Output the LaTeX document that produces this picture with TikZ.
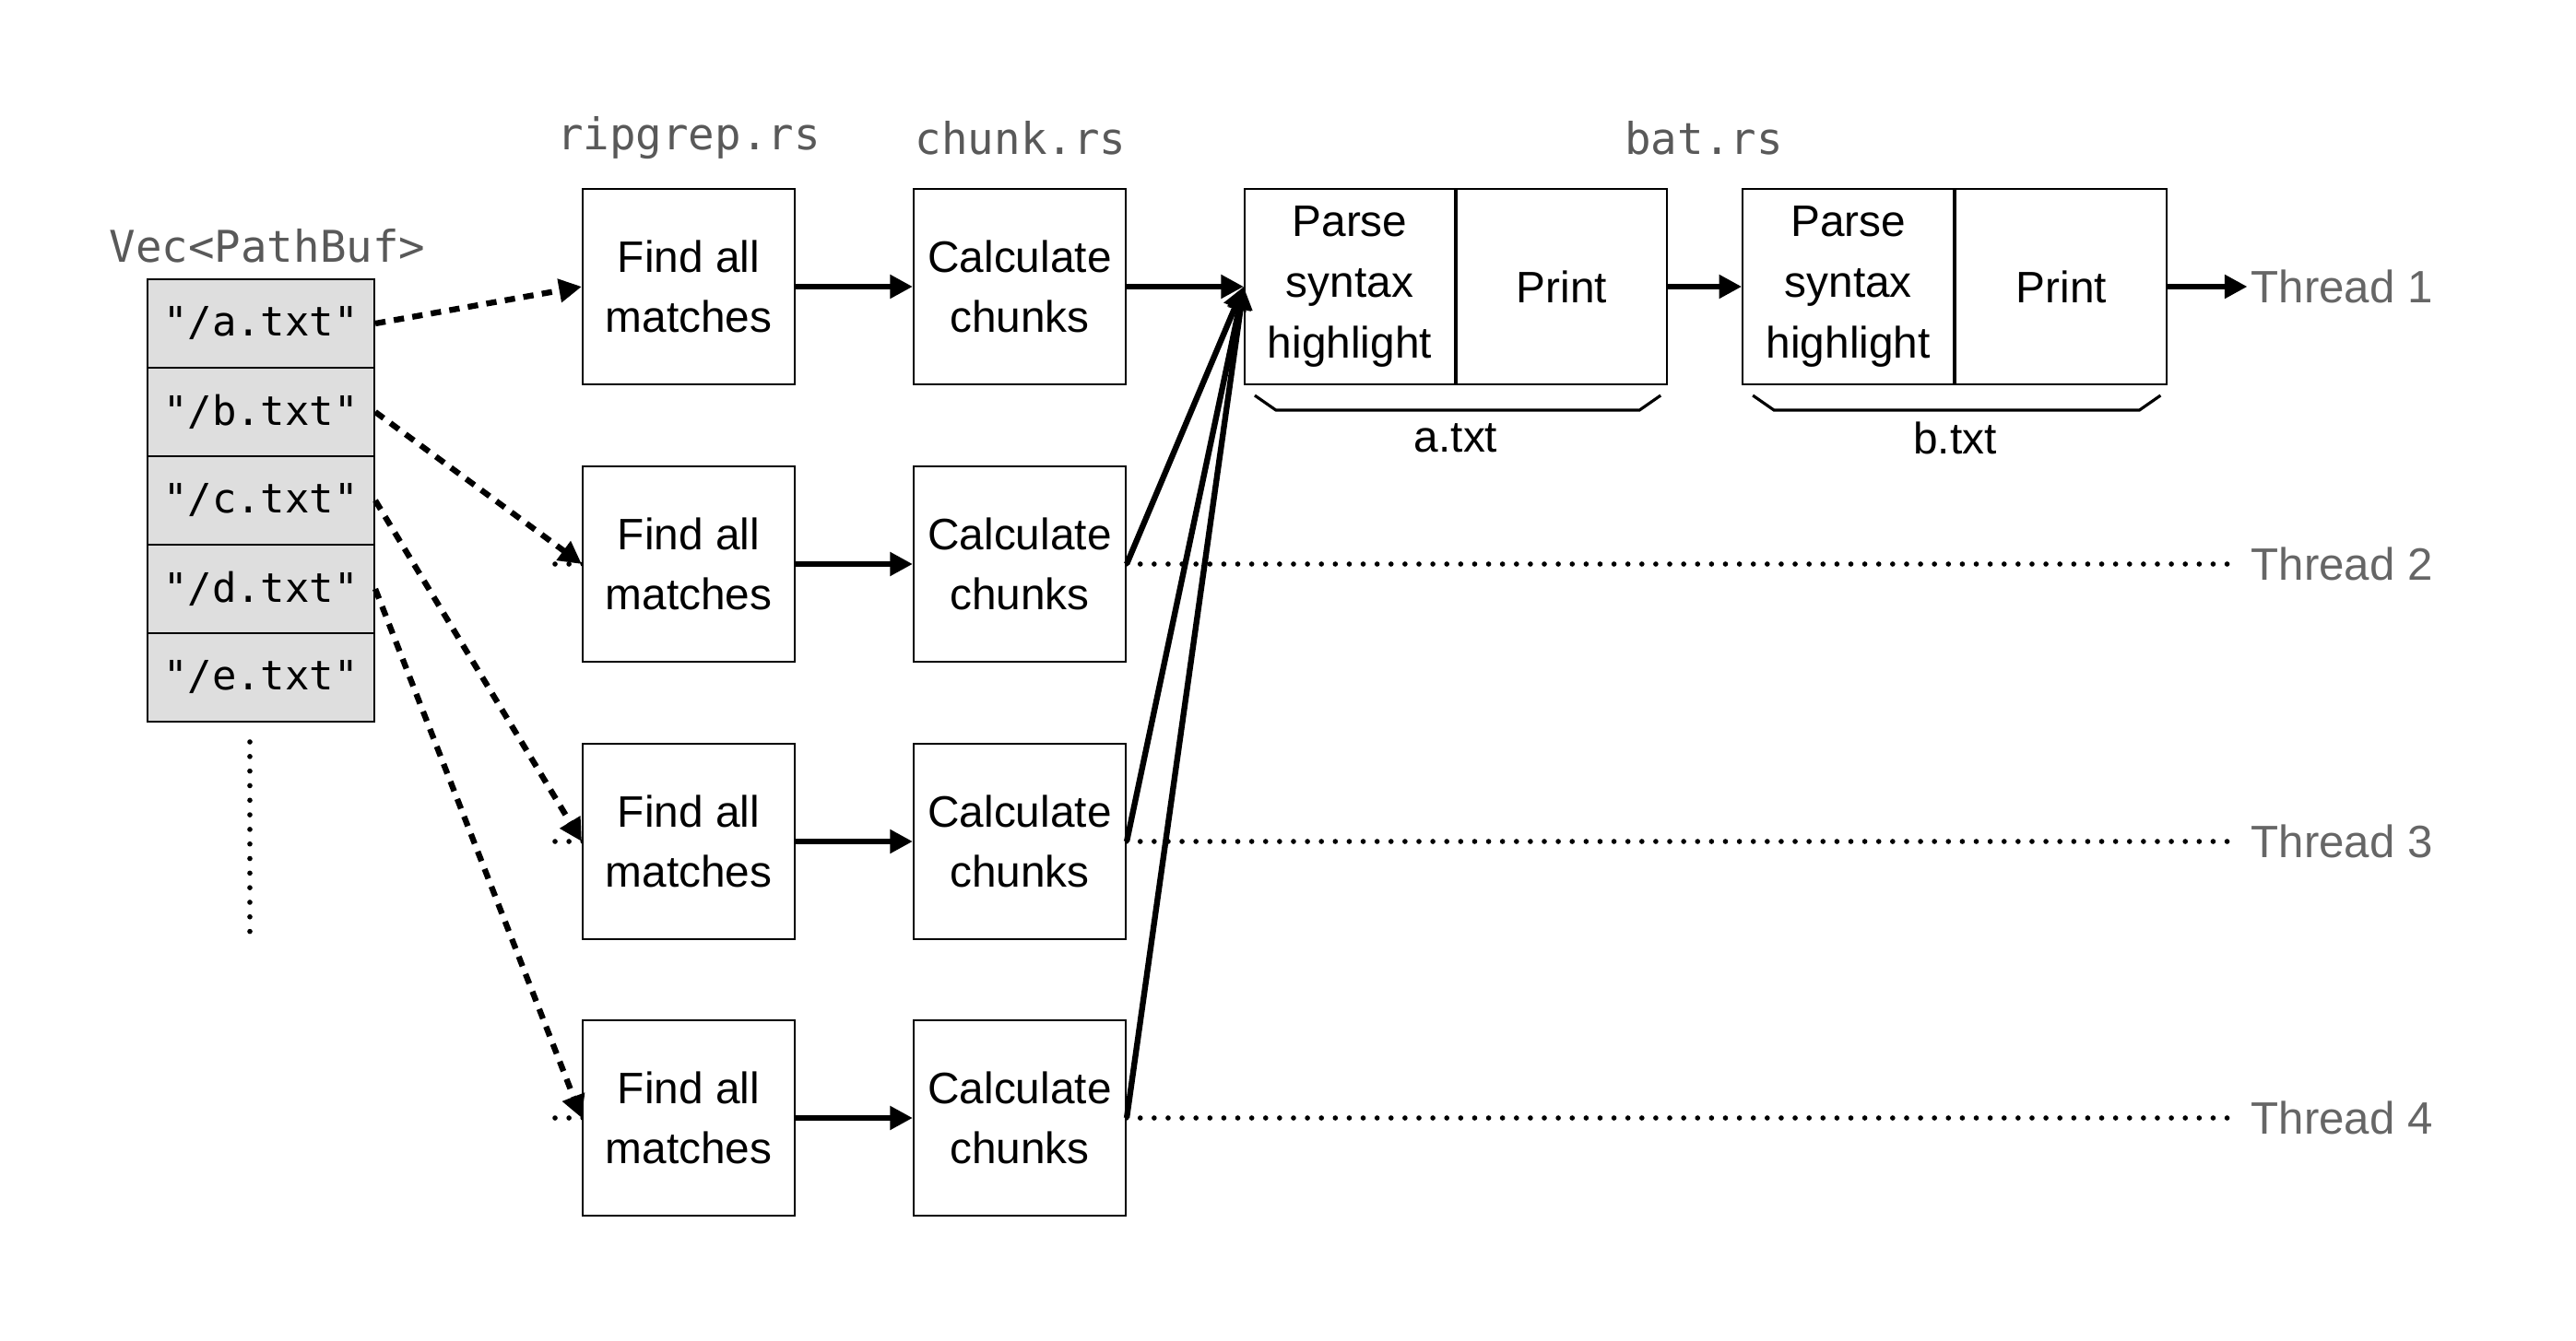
\documentclass[tikz,border=0pt]{standalone}
\usepackage{fontspec}
\setmainfont{Liberation Sans}
\setmonofont{DejaVu Sans Mono}
\usetikzlibrary{arrows.meta,positioning}

\begin{document}
\begin{tikzpicture}[
        box/.style = {draw, line width=.6pt, fill=white, minimum width=2.3cm, minimum height=2.12cm,
                      align=center, inner sep=0pt, font=\fontsize{13.6}{18.7}\selectfont},
        cell/.style = {draw, line width=.6pt, fill=black!13, minimum width=2.46cm, minimum height=.96cm,
                       inner sep=0pt, font=\ttfamily\fontsize{12.5}{15}\selectfont},
        lbl/.style = {text=black!65, font=\ttfamily\fontsize{13.5}{16}\selectfont},
        thr/.style = {text=black!60, anchor=west, inner sep=1pt, font=\fontsize{14}{17}\selectfont},
        flow/.style = {-{Triangle[length=7pt,width=7pt]}, line width=1.8pt},
        feed/.style = {flow, dash pattern=on 3.2pt off 2.6pt},
        tline/.style = {line width=1.6pt, line cap=round, dash pattern=on 0pt off 4.3pt},
    ]
    \useasboundingbox (0,0) rectangle (27.94,14.54);

    % threads
    \foreach \i/\y in {1/11.43,2/8.42,3/5.41,4/2.41}
        \node[thr] (thr\i) at (24.375,\y) {Thread \i};
    \foreach \i/\y in {2/8.42,3/5.41,4/2.41} {
        \coordinate (t\i) at (6.02,\y);
        \draw[tline, shorten >=.1cm] (t\i) -- (thr\i.west);
    }

    % stages
    \node[lbl] (rg) at (7.47,13.04) {ripgrep.rs};
    \node[lbl] (ck) at (11.07,13.04) {chunk.rs};
    \node[lbl] (bt) at (18.48,13.04) {bat.rs};
    \foreach \i/\y in {1/11.43,2/8.42,3/5.41,4/2.41} {
        \node[box] (find\i) at (7.47,\y) {Find all\\matches};
        \node[box] (calc\i) at (11.06,\y) {Calculate\\chunks};
    }
    \node[box, minimum width=2.28cm] (pa) at (14.64,11.43) {Parse\\syntax\\highlight};
    \node[box, minimum width=2.28cm, right=0pt of pa] (pra) {Print};
    \node[box, minimum width=2.29cm, right=.8cm of pra] (pb) {Parse\\syntax\\highlight};
    \node[box, minimum width=2.29cm, right=0pt of pb] (prb) {Print};

    % files
    \node[lbl] (vec) at (2.90,11.87) {Vec<PathBuf>};
    \foreach \f [count=\k] in {a,b,c,d,e}
        \node[cell] (v\f) at (2.83,11.99-.96*\k) {"/\f.txt"};
    \coordinate (more) at (2.71,6.49);
    \coordinate (moreend) at (2.71,4.38);
    \draw[line width=1.6pt, line cap=round, dash pattern=on 0pt off 4.5pt] (more) -- (moreend);

    \draw[feed] (va.east) -- (find1.west);
    \draw[feed] (vb.east) -- (find2.west);
    \draw[feed] (vc.east) -- (find3.west);
    \draw[feed] (vd.east) -- (find4.west);

    \foreach \i in {1,...,4}
        \draw[flow] (find\i) -- (calc\i);
    \draw[flow] (calc1) -- (pa);
    \foreach \i in {2,3,4}
        \draw[flow] (calc\i.east) -- (pa.west);
    \draw[flow] (pra) -- (pb);
    \draw[flow] (prb) -- (thr1);

    % braces
    \draw[line width=.9pt] ([xshift=.12cm,yshift=-.11cm]pa.south west) -- ++(.23,-.16)
        -- ([xshift=-.31cm,yshift=-.27cm]pra.south east) -- ++(.23,.16);
    \draw[line width=.9pt] ([xshift=.12cm,yshift=-.11cm]pb.south west) -- ++(.23,-.16)
        -- ([xshift=-.31cm,yshift=-.27cm]prb.south east) -- ++(.23,.16);
    \node[font=\fontsize{13.6}{16}\selectfont] (afile) at ([yshift=-.57cm]pa.south east) {a.txt};
    \node[font=\fontsize{13.6}{16}\selectfont] (bfile) at ([yshift=-.57cm]pb.south east) {b.txt};
\end{tikzpicture}
\end{document}
